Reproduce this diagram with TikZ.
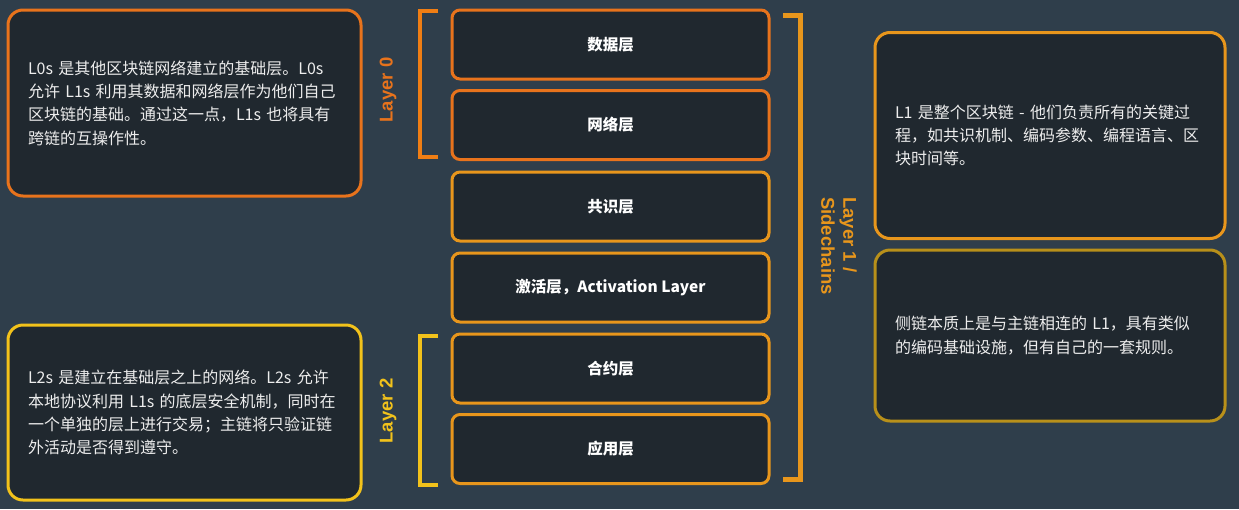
\documentclass[tikz,border=0pt]{standalone}
\usepackage{fontspec}
\newfontfamily\cjk{Noto Sans CJK SC}
\newfontfamily\lat{Liberation Sans}
\definecolor{bg}{HTML}{2F3E4B}
\definecolor{boxfill}{HTML}{20282F}
\definecolor{orA}{HTML}{E8731C}
\definecolor{orB}{HTML}{F07E14}
\definecolor{orC}{HTML}{E8961C}
\definecolor{yeA}{HTML}{F2C21B}
\definecolor{goA}{HTML}{B8901A}
\definecolor{txt}{HTML}{EDEDED}
\tikzset{
  descbox/.style={draw, line width=3pt, fill=boxfill, rounded corners=15pt,
    text width=#1, inner xsep=20pt, align=left, text=txt,
    font=\cjk\fontsize{16}{23.3}\selectfont},
  layerbox/.style={draw, line width=3pt, fill=boxfill, rounded corners=8pt,
    minimum width=317pt, minimum height=69pt, text=white,
    font=\cjk\bfseries\fontsize{15.5}{18}\selectfont},
  bracketline/.style={line width=4pt},
  layerlabel/.style={font=\lat\bfseries\fontsize{18.5}{22}\selectfont}
}
\begin{document}
\begin{tikzpicture}[x=1pt,y=-1pt]
\fill[bg] (0,0) rectangle (1239,509);
\useasboundingbox (0,0) rectangle (1239,509);

% left description boxes
\node[descbox=313pt, draw=orA, minimum height=186pt] (l0desc) at (184.5,103)
  {L0s 是其他区块链网络建立的基础层。L0s\\允许 L1s 利用其数据和网络层作为他们自己\\区块链的基础。通过这一点，L1s 也将具有\\跨链的互操作性。};
\node[descbox=313pt, draw=yeA, minimum height=175pt] (l2desc) at (184.5,412.5)
  {L2s 是建立在基础层之上的网络。L2s 允许\\本地协议利用 L1s 的底层安全机制，同时在\\一个单独的层上进行交易；主链将只验证链\\外活动是否得到遵守。};

% right description boxes
\node[descbox=310pt, draw=orC, minimum height=206pt] (l1desc) at (1050,135.5)
  {L1 是整个区块链 - 他们负责所有的关键过\\程，如共识机制、编码参数、编程语言、区\\块时间等。};
\node[descbox=310pt, draw=goA, minimum height=171pt] (scdesc) at (1050,335.5)
  {侧链本质上是与主链相连的 L1，具有类似\\的编码基础设施，但有自己的一套规则。};

% layer stack
\node[layerbox, draw=orA] (data) at (610.5,44.5) {数据层};
\node[layerbox, draw=orA] (net) at (610.5,125) {网络层};
\node[layerbox, draw=orC] (cons) at (610.5,206.5) {共识层};
\node[layerbox, draw=orC] (act) at (610.5,287.5) {激活层，Activation Layer};
\node[layerbox, draw=orC] (contract) at (610.5,368.5) {合约层};
\node[layerbox, draw=orC] (app) at (610.5,449) {应用层};

% brackets
\draw[bracketline, orB] (438,11) -- (420,11) -- (420,157) -- (438,157);
\draw[bracketline, yeA] (438,336) -- (420,336) -- (420,485) -- (438,485);
\draw[line width=5pt, orC] (783,15.5) -- (800,15.5) -- (800,479.5) -- (783,479.5);

% labels
\node[layerlabel, text=orA, rotate=90] (lab0) at (388,90) {Layer 0};
\node[layerlabel, text=yeA, rotate=90] (lab2) at (388,411) {Layer 2};
\node[layerlabel, text=orC, rotate=-90, align=left] (lab1) at (839,246) {Layer 1 /\\Sidechains};
\end{tikzpicture}
\end{document}
